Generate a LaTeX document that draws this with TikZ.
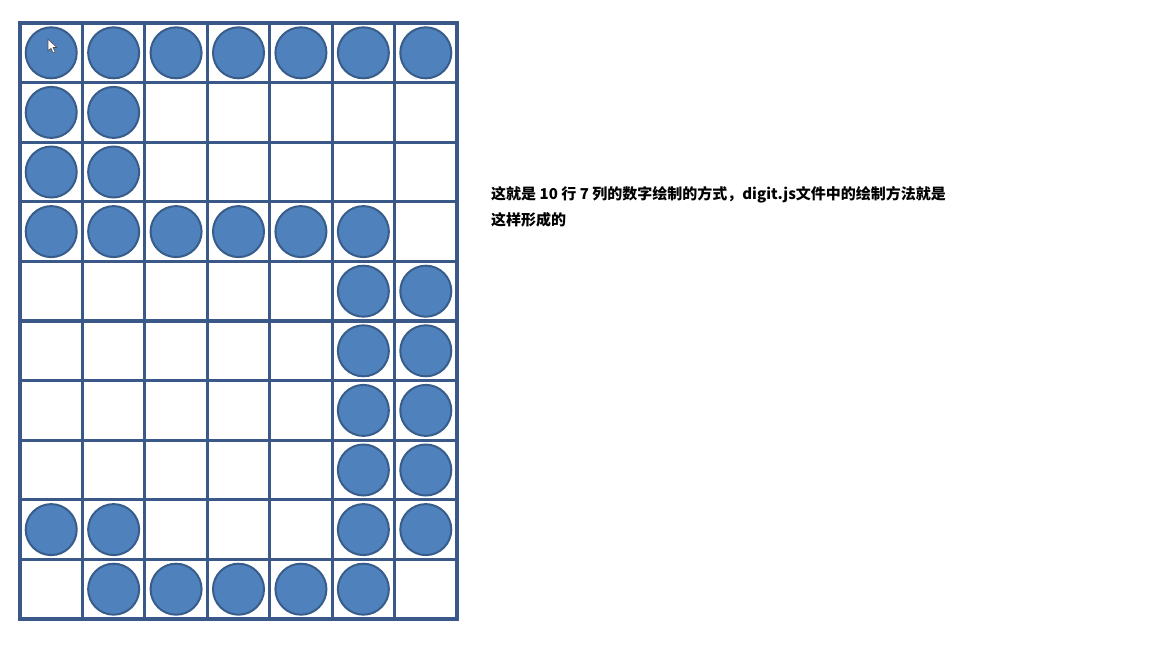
\documentclass[tikz,border=0pt]{standalone}
\usepackage{fontspec}
\newfontfamily\cjk{Noto Sans CJK SC}
\definecolor{gridc}{HTML}{3B5988}
\definecolor{dotfill}{HTML}{4F81BD}
\definecolor{dotline}{HTML}{385D8A}
\tikzset{
  gridline/.style={draw=gridc, line width=3.2pt},
  dot/.style={circle, fill=dotfill, draw=dotline, line width=2pt, minimum size=51pt, inner sep=0pt},
  note/.style={anchor=west, inner sep=0pt, font=\cjk\bfseries\fontsize{15}{17}\selectfont}
}
\begin{document}
\begin{tikzpicture}[x=1pt, y=-1pt]
\useasboundingbox (0,0) rectangle (1152,648);
\fill[white] (0,0) rectangle (1152,648);
\def\cw{62.43}
\def\rh{59.6}
% dots
\foreach \r/\cols in {0/{0,1,2,3,4,5,6},1/{0,1},2/{0,1},3/{0,1,2,3,4,5},4/{5,6},5/{5,6},6/{5,6},7/{5,6},8/{0,1,5,6},9/{1,2,3,4,5}}{
  \foreach \c in \cols {
    \node[dot] (d-\r-\c) at ({20+\cw*(\c+0.5)}, {23+\rh*(\r+0.5)}) {};
  }
}
% grid
\foreach \i in {0,...,7} {
  \draw[gridline] ({20+\cw*\i}, 21.4) -- ({20+\cw*\i}, 620.6);
}
\foreach \j in {0,...,10} {
  \draw[gridline] (18.4, {23+\rh*\j}) -- (458.6, {23+\rh*\j});
}
% cursor
\draw[fill=white, draw=black!70, line width=0.6pt, line join=round]
  (48,39) -- (48,51) -- (51,48.3) -- (53.2,53) -- (55.2,52.1) -- (53,47.5) -- (56.8,47.5) -- cycle;
% text
\node[note] (t1) at (491,195) {这就是 10 行 7 列的数字绘制的方式，digit.js文件中的绘制方法就是};
\node[note] (t2) at (491,220) {这样形成的};
\end{tikzpicture}
\end{document}
